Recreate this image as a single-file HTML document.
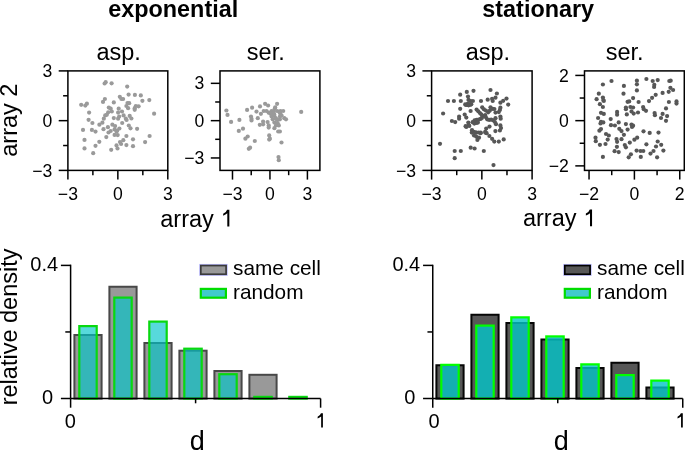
<!DOCTYPE html>
<html><head><meta charset="utf-8"><style>
html,body{margin:0;padding:0;background:#fff;}
svg{display:block;will-change:transform;}
text{font-family:"Liberation Sans", sans-serif;fill:#000;}
.tt{font-weight:bold;font-size:23.4px;}
.st{font-size:23.5px;}
.al{font-size:23.5px;}
.a1{font-size:23px;}
.tk{font-size:17.6px;}
.tb{font-size:20px;}
.lg{font-size:20.8px;}
.dl{font-size:27px;}
</style></head><body>
<svg width="685" height="452" viewBox="0 0 685 452">
<rect width="685" height="452" fill="#fff"/>
<text x="173.2" y="17" text-anchor="middle" class="tt">exponential</text>
<text x="538.2" y="16.8" text-anchor="middle" class="tt">stationary</text>
<text x="118.7" y="59.6" text-anchor="middle" class="st">asp.</text>
<text x="265.8" y="60.1" text-anchor="middle" class="st">ser.</text>
<text x="487.9" y="60.1" text-anchor="middle" class="st">asp.</text>
<text x="624.7" y="60.1" text-anchor="middle" class="st">ser.</text>
<text x="160.25" y="226.5" class="al">array </text>
<path transform="translate(220.6,226.5) scale(23.5,-23.5)" d="M0.3726,0 L0.3726,0.716 L0.2773,0.716 Q0.24,0.60 0.109,0.540 L0.109,0.455 Q0.22,0.505 0.285,0.560 L0.285,0 Z" fill="#000"/>
<text x="522.95" y="226.3" class="al">array </text>
<path transform="translate(583.3,226.3) scale(23.5,-23.5)" d="M0.3726,0 L0.3726,0.716 L0.2773,0.716 Q0.24,0.60 0.109,0.540 L0.109,0.455 Q0.22,0.505 0.285,0.560 L0.285,0 Z" fill="#000"/>
<text transform="translate(17.3,120.2) rotate(-90)" text-anchor="middle" class="al">array 2</text>
<text transform="translate(17.2,326.9) rotate(-90)" text-anchor="middle" class="al">relative density</text>
<circle cx="104.6" cy="83.5" r="2.1" fill="#9a9a9a"/>
<circle cx="105.7" cy="82.2" r="2.1" fill="#9a9a9a"/>
<circle cx="111.6" cy="83.3" r="2.1" fill="#9a9a9a"/>
<circle cx="104.9" cy="99" r="2.1" fill="#9a9a9a"/>
<circle cx="103" cy="101.9" r="2.1" fill="#9a9a9a"/>
<circle cx="113.8" cy="102.4" r="2.1" fill="#9a9a9a"/>
<circle cx="81.2" cy="104.8" r="2.1" fill="#9a9a9a"/>
<circle cx="85.3" cy="105.6" r="2.1" fill="#9a9a9a"/>
<circle cx="86.9" cy="103.7" r="2.1" fill="#9a9a9a"/>
<circle cx="89.1" cy="112.6" r="2.1" fill="#9a9a9a"/>
<circle cx="108.8" cy="107.6" r="2.1" fill="#9a9a9a"/>
<circle cx="110.7" cy="108.7" r="2.1" fill="#9a9a9a"/>
<circle cx="111.8" cy="111.5" r="2.1" fill="#9a9a9a"/>
<circle cx="108.2" cy="112.3" r="2.1" fill="#9a9a9a"/>
<circle cx="105.2" cy="115.4" r="2.1" fill="#9a9a9a"/>
<circle cx="106.8" cy="114.8" r="2.1" fill="#9a9a9a"/>
<circle cx="103.8" cy="118.7" r="2.1" fill="#9a9a9a"/>
<circle cx="113.8" cy="118.1" r="2.1" fill="#9a9a9a"/>
<circle cx="88.6" cy="119.8" r="2.1" fill="#9a9a9a"/>
<circle cx="127.2" cy="86.6" r="2.1" fill="#9a9a9a"/>
<circle cx="128.6" cy="94.6" r="2.1" fill="#9a9a9a"/>
<circle cx="134.9" cy="94.9" r="2.1" fill="#9a9a9a"/>
<circle cx="140.8" cy="95.4" r="2.1" fill="#9a9a9a"/>
<circle cx="119.8" cy="96.8" r="2.1" fill="#9a9a9a"/>
<circle cx="121.4" cy="99" r="2.1" fill="#9a9a9a"/>
<circle cx="123.1" cy="99" r="2.1" fill="#9a9a9a"/>
<circle cx="142.4" cy="100.8" r="2.1" fill="#9a9a9a"/>
<circle cx="149.3" cy="100.1" r="2.1" fill="#9a9a9a"/>
<circle cx="127.5" cy="103" r="2.1" fill="#9a9a9a"/>
<circle cx="129.2" cy="103.2" r="2.1" fill="#9a9a9a"/>
<circle cx="126.4" cy="106" r="2.1" fill="#9a9a9a"/>
<circle cx="128.1" cy="108.2" r="2.1" fill="#9a9a9a"/>
<circle cx="135.8" cy="106" r="2.1" fill="#9a9a9a"/>
<circle cx="138.6" cy="106.3" r="2.1" fill="#9a9a9a"/>
<circle cx="134.7" cy="108.2" r="2.1" fill="#9a9a9a"/>
<circle cx="134.7" cy="109.8" r="2.1" fill="#9a9a9a"/>
<circle cx="118.7" cy="108.7" r="2.1" fill="#9a9a9a"/>
<circle cx="122" cy="111.5" r="2.1" fill="#9a9a9a"/>
<circle cx="118.1" cy="112.6" r="2.1" fill="#9a9a9a"/>
<circle cx="154.1" cy="113.7" r="2.1" fill="#9a9a9a"/>
<circle cx="123.6" cy="115.4" r="2.1" fill="#9a9a9a"/>
<circle cx="129.7" cy="115.9" r="2.1" fill="#9a9a9a"/>
<circle cx="131.4" cy="118.5" r="2.1" fill="#9a9a9a"/>
<circle cx="119.2" cy="116.5" r="2.1" fill="#9a9a9a"/>
<circle cx="118.1" cy="118.7" r="2.1" fill="#9a9a9a"/>
<circle cx="125.8" cy="118.7" r="2.1" fill="#9a9a9a"/>
<circle cx="92.4" cy="123" r="2.1" fill="#9a9a9a"/>
<circle cx="99.4" cy="124.7" r="2.1" fill="#9a9a9a"/>
<circle cx="102.4" cy="122.7" r="2.1" fill="#9a9a9a"/>
<circle cx="83" cy="129.9" r="2.1" fill="#9a9a9a"/>
<circle cx="91.9" cy="129.9" r="2.1" fill="#9a9a9a"/>
<circle cx="95.5" cy="131.6" r="2.1" fill="#9a9a9a"/>
<circle cx="103.5" cy="129.2" r="2.1" fill="#9a9a9a"/>
<circle cx="107.9" cy="127.2" r="2.1" fill="#9a9a9a"/>
<circle cx="112.4" cy="124.7" r="2.1" fill="#9a9a9a"/>
<circle cx="115.1" cy="126.1" r="2.1" fill="#9a9a9a"/>
<circle cx="108.5" cy="132.5" r="2.1" fill="#9a9a9a"/>
<circle cx="110.7" cy="131" r="2.1" fill="#9a9a9a"/>
<circle cx="114.6" cy="129.4" r="2.1" fill="#9a9a9a"/>
<circle cx="114.6" cy="134.9" r="2.1" fill="#9a9a9a"/>
<circle cx="106.3" cy="137.1" r="2.1" fill="#9a9a9a"/>
<circle cx="84.5" cy="139.9" r="2.1" fill="#9a9a9a"/>
<circle cx="99.3" cy="141.8" r="2.1" fill="#9a9a9a"/>
<circle cx="95.5" cy="145.8" r="2.1" fill="#9a9a9a"/>
<circle cx="84.5" cy="148.4" r="2.1" fill="#9a9a9a"/>
<circle cx="93.2" cy="153.2" r="2.1" fill="#9a9a9a"/>
<circle cx="111.2" cy="149.8" r="2.1" fill="#9a9a9a"/>
<circle cx="116.5" cy="145.4" r="2.1" fill="#9a9a9a"/>
<circle cx="117.5" cy="148.5" r="2.1" fill="#9a9a9a"/>
<circle cx="122.2" cy="123" r="2.1" fill="#9a9a9a"/>
<circle cx="126.6" cy="120" r="2.1" fill="#9a9a9a"/>
<circle cx="117.2" cy="130.5" r="2.1" fill="#9a9a9a"/>
<circle cx="119.4" cy="128.5" r="2.1" fill="#9a9a9a"/>
<circle cx="116.6" cy="131.6" r="2.1" fill="#9a9a9a"/>
<circle cx="117.7" cy="135.1" r="2.1" fill="#9a9a9a"/>
<circle cx="128.8" cy="125.5" r="2.1" fill="#9a9a9a"/>
<circle cx="130.5" cy="128.3" r="2.1" fill="#9a9a9a"/>
<circle cx="137.1" cy="128.8" r="2.1" fill="#9a9a9a"/>
<circle cx="126.4" cy="136" r="2.1" fill="#9a9a9a"/>
<circle cx="133" cy="139.3" r="2.1" fill="#9a9a9a"/>
<circle cx="123.3" cy="140.2" r="2.1" fill="#9a9a9a"/>
<circle cx="120" cy="142.1" r="2.1" fill="#9a9a9a"/>
<circle cx="121.1" cy="144" r="2.1" fill="#9a9a9a"/>
<circle cx="126.4" cy="145.1" r="2.1" fill="#9a9a9a"/>
<circle cx="133" cy="146.2" r="2.1" fill="#9a9a9a"/>
<circle cx="149.6" cy="136" r="2.1" fill="#9a9a9a"/>
<circle cx="145.1" cy="142.1" r="2.1" fill="#9a9a9a"/>
<rect x="67.9" y="70.9" width="99.9" height="99.5" fill="none" stroke="#000" stroke-width="1.5"/>
<line x1="67.9" y1="170.4" x2="67.9" y2="179.6" stroke="#000" stroke-width="1.5"/>
<line x1="58.7" y1="170.4" x2="67.9" y2="170.4" stroke="#000" stroke-width="1.5"/>
<text x="67.9" y="199.7" text-anchor="middle" class="tk">−3</text>
<text x="52.3" y="176.5" text-anchor="end" class="tk">−3</text>
<line x1="117.85" y1="170.4" x2="117.85" y2="179.6" stroke="#000" stroke-width="1.5"/>
<line x1="58.7" y1="120.65" x2="67.9" y2="120.65" stroke="#000" stroke-width="1.5"/>
<text x="117.85" y="199.7" text-anchor="middle" class="tk">0</text>
<text x="52.3" y="126.75" text-anchor="end" class="tk">0</text>
<line x1="167.8" y1="170.4" x2="167.8" y2="179.6" stroke="#000" stroke-width="1.5"/>
<line x1="58.7" y1="70.9" x2="67.9" y2="70.9" stroke="#000" stroke-width="1.5"/>
<text x="167.8" y="199.7" text-anchor="middle" class="tk">3</text>
<text x="52.3" y="77" text-anchor="end" class="tk">3</text>
<line x1="92.88" y1="170.4" x2="92.88" y2="175.2" stroke="#000" stroke-width="1.5"/>
<line x1="63.1" y1="145.53" x2="67.9" y2="145.53" stroke="#000" stroke-width="1.5"/>
<line x1="142.83" y1="170.4" x2="142.83" y2="175.2" stroke="#000" stroke-width="1.5"/>
<line x1="63.1" y1="95.78" x2="67.9" y2="95.78" stroke="#000" stroke-width="1.5"/>
<circle cx="226.4" cy="110.5" r="2.1" fill="#9a9a9a"/>
<circle cx="227.5" cy="114.9" r="2.1" fill="#9a9a9a"/>
<circle cx="231.1" cy="121.9" r="2.1" fill="#9a9a9a"/>
<circle cx="239.4" cy="119.9" r="2.1" fill="#9a9a9a"/>
<circle cx="243" cy="128.7" r="2.1" fill="#9a9a9a"/>
<circle cx="238.8" cy="130.9" r="2.1" fill="#9a9a9a"/>
<circle cx="247.1" cy="109.9" r="2.1" fill="#9a9a9a"/>
<circle cx="252.1" cy="107.7" r="2.1" fill="#9a9a9a"/>
<circle cx="251" cy="116.5" r="2.1" fill="#9a9a9a"/>
<circle cx="251.5" cy="118.8" r="2.1" fill="#9a9a9a"/>
<circle cx="251.5" cy="120.4" r="2.1" fill="#9a9a9a"/>
<circle cx="256.5" cy="111.6" r="2.1" fill="#9a9a9a"/>
<circle cx="257.8" cy="118.2" r="2.1" fill="#9a9a9a"/>
<circle cx="260" cy="106.4" r="2.1" fill="#9a9a9a"/>
<circle cx="265.1" cy="103.8" r="2.1" fill="#9a9a9a"/>
<circle cx="268.1" cy="105.5" r="2.1" fill="#9a9a9a"/>
<circle cx="260.9" cy="113.8" r="2.1" fill="#9a9a9a"/>
<circle cx="263.7" cy="111" r="2.1" fill="#9a9a9a"/>
<circle cx="266.5" cy="111" r="2.1" fill="#9a9a9a"/>
<circle cx="268.7" cy="112.7" r="2.1" fill="#9a9a9a"/>
<circle cx="259.8" cy="124.8" r="2.1" fill="#9a9a9a"/>
<circle cx="263.1" cy="121.5" r="2.1" fill="#9a9a9a"/>
<circle cx="263.1" cy="124.3" r="2.1" fill="#9a9a9a"/>
<circle cx="267.6" cy="122.1" r="2.1" fill="#9a9a9a"/>
<circle cx="268.7" cy="125.4" r="2.1" fill="#9a9a9a"/>
<circle cx="268.7" cy="127.6" r="2.1" fill="#9a9a9a"/>
<circle cx="247.7" cy="136.5" r="2.1" fill="#9a9a9a"/>
<circle cx="245.4" cy="138.7" r="2.1" fill="#9a9a9a"/>
<circle cx="269.2" cy="135.4" r="2.1" fill="#9a9a9a"/>
<circle cx="277.1" cy="103.8" r="2.1" fill="#9a9a9a"/>
<circle cx="274.9" cy="108.3" r="2.1" fill="#9a9a9a"/>
<circle cx="271.6" cy="111" r="2.1" fill="#9a9a9a"/>
<circle cx="273.8" cy="111" r="2.1" fill="#9a9a9a"/>
<circle cx="277.1" cy="111" r="2.1" fill="#9a9a9a"/>
<circle cx="280.4" cy="111" r="2.1" fill="#9a9a9a"/>
<circle cx="283.2" cy="111" r="2.1" fill="#9a9a9a"/>
<circle cx="270.5" cy="113.8" r="2.1" fill="#9a9a9a"/>
<circle cx="273.3" cy="113.8" r="2.1" fill="#9a9a9a"/>
<circle cx="280.4" cy="113.8" r="2.1" fill="#9a9a9a"/>
<circle cx="271.6" cy="116.5" r="2.1" fill="#9a9a9a"/>
<circle cx="274.4" cy="116" r="2.1" fill="#9a9a9a"/>
<circle cx="275.5" cy="118.2" r="2.1" fill="#9a9a9a"/>
<circle cx="279.9" cy="116.5" r="2.1" fill="#9a9a9a"/>
<circle cx="272.7" cy="119.3" r="2.1" fill="#9a9a9a"/>
<circle cx="277.1" cy="119.9" r="2.1" fill="#9a9a9a"/>
<circle cx="279.9" cy="119.3" r="2.1" fill="#9a9a9a"/>
<circle cx="284.3" cy="118.2" r="2.1" fill="#9a9a9a"/>
<circle cx="286" cy="119.3" r="2.1" fill="#9a9a9a"/>
<circle cx="274.4" cy="122.6" r="2.1" fill="#9a9a9a"/>
<circle cx="277.7" cy="123.2" r="2.1" fill="#9a9a9a"/>
<circle cx="278.8" cy="125.4" r="2.1" fill="#9a9a9a"/>
<circle cx="276" cy="125.4" r="2.1" fill="#9a9a9a"/>
<circle cx="274.4" cy="128.2" r="2.1" fill="#9a9a9a"/>
<circle cx="278.2" cy="131.5" r="2.1" fill="#9a9a9a"/>
<circle cx="279.9" cy="131.5" r="2.1" fill="#9a9a9a"/>
<circle cx="269.9" cy="138.7" r="2.1" fill="#9a9a9a"/>
<circle cx="301.2" cy="111.9" r="2.1" fill="#9a9a9a"/>
<circle cx="254.8" cy="141" r="2.1" fill="#9a9a9a"/>
<circle cx="248.8" cy="148.8" r="2.1" fill="#9a9a9a"/>
<circle cx="250.1" cy="147.7" r="2.1" fill="#9a9a9a"/>
<circle cx="269.2" cy="139.6" r="2.1" fill="#9a9a9a"/>
<circle cx="281.5" cy="142.5" r="2.1" fill="#9a9a9a"/>
<circle cx="278.5" cy="157.1" r="2.1" fill="#9a9a9a"/>
<circle cx="278.8" cy="160.2" r="2.1" fill="#9a9a9a"/>
<circle cx="276" cy="118.6" r="2.1" fill="#9a9a9a"/>
<circle cx="279.6" cy="112.6" r="2.1" fill="#9a9a9a"/>
<circle cx="281.6" cy="115.6" r="2.1" fill="#9a9a9a"/>
<circle cx="274.2" cy="114.2" r="2.1" fill="#9a9a9a"/>
<circle cx="275.2" cy="107.4" r="2.1" fill="#9a9a9a"/>
<rect x="220" y="70.9" width="99.9" height="99.5" fill="none" stroke="#000" stroke-width="1.5"/>
<line x1="232.49" y1="170.4" x2="232.49" y2="179.6" stroke="#000" stroke-width="1.5"/>
<line x1="210.8" y1="157.96" x2="220" y2="157.96" stroke="#000" stroke-width="1.5"/>
<text x="232.49" y="199.7" text-anchor="middle" class="tk">−3</text>
<text x="204.4" y="164.06" text-anchor="end" class="tk">−3</text>
<line x1="269.95" y1="170.4" x2="269.95" y2="179.6" stroke="#000" stroke-width="1.5"/>
<line x1="210.8" y1="120.65" x2="220" y2="120.65" stroke="#000" stroke-width="1.5"/>
<text x="269.95" y="199.7" text-anchor="middle" class="tk">0</text>
<text x="204.4" y="126.75" text-anchor="end" class="tk">0</text>
<line x1="307.41" y1="170.4" x2="307.41" y2="179.6" stroke="#000" stroke-width="1.5"/>
<line x1="210.8" y1="83.34" x2="220" y2="83.34" stroke="#000" stroke-width="1.5"/>
<text x="307.41" y="199.7" text-anchor="middle" class="tk">3</text>
<text x="204.4" y="89.44" text-anchor="end" class="tk">3</text>
<line x1="251.22" y1="170.4" x2="251.22" y2="175.2" stroke="#000" stroke-width="1.5"/>
<line x1="215.2" y1="139.31" x2="220" y2="139.31" stroke="#000" stroke-width="1.5"/>
<line x1="288.68" y1="170.4" x2="288.68" y2="175.2" stroke="#000" stroke-width="1.5"/>
<line x1="215.2" y1="101.99" x2="220" y2="101.99" stroke="#000" stroke-width="1.5"/>
<circle cx="466.8" cy="91.9" r="2.1" fill="#575757"/>
<circle cx="473.5" cy="90.8" r="2.1" fill="#575757"/>
<circle cx="460.2" cy="94.7" r="2.1" fill="#575757"/>
<circle cx="448" cy="101" r="2.1" fill="#575757"/>
<circle cx="453.9" cy="101" r="2.1" fill="#575757"/>
<circle cx="460.8" cy="101" r="2.1" fill="#575757"/>
<circle cx="468" cy="96.6" r="2.1" fill="#575757"/>
<circle cx="468.5" cy="99.9" r="2.1" fill="#575757"/>
<circle cx="470.7" cy="101" r="2.1" fill="#575757"/>
<circle cx="472.9" cy="101" r="2.1" fill="#575757"/>
<circle cx="465.2" cy="104.4" r="2.1" fill="#575757"/>
<circle cx="467.4" cy="104.9" r="2.1" fill="#575757"/>
<circle cx="469.6" cy="104.4" r="2.1" fill="#575757"/>
<circle cx="481" cy="101" r="2.1" fill="#575757"/>
<circle cx="460.2" cy="108.8" r="2.1" fill="#575757"/>
<circle cx="443.1" cy="113.5" r="2.1" fill="#575757"/>
<circle cx="459.1" cy="116.5" r="2.1" fill="#575757"/>
<circle cx="459.1" cy="118.7" r="2.1" fill="#575757"/>
<circle cx="451.9" cy="121" r="2.1" fill="#575757"/>
<circle cx="455.2" cy="122.1" r="2.1" fill="#575757"/>
<circle cx="471.8" cy="132.6" r="2.1" fill="#575757"/>
<circle cx="476.2" cy="132.6" r="2.1" fill="#575757"/>
<circle cx="480.7" cy="132.6" r="2.1" fill="#575757"/>
<circle cx="490.5" cy="90" r="2.1" fill="#575757"/>
<circle cx="496.9" cy="93.5" r="2.1" fill="#575757"/>
<circle cx="487.7" cy="99.7" r="2.1" fill="#575757"/>
<circle cx="492.1" cy="98.8" r="2.1" fill="#575757"/>
<circle cx="492.7" cy="101" r="2.1" fill="#575757"/>
<circle cx="495.5" cy="97.7" r="2.1" fill="#575757"/>
<circle cx="500.4" cy="102.7" r="2.1" fill="#575757"/>
<circle cx="503.2" cy="100.8" r="2.1" fill="#575757"/>
<circle cx="506.5" cy="98.6" r="2.1" fill="#575757"/>
<circle cx="508.2" cy="104.6" r="2.1" fill="#575757"/>
<circle cx="492.7" cy="108.8" r="2.1" fill="#575757"/>
<circle cx="494.4" cy="109" r="2.1" fill="#575757"/>
<circle cx="500.4" cy="107.7" r="2.1" fill="#575757"/>
<circle cx="499.9" cy="109.9" r="2.1" fill="#575757"/>
<circle cx="495.5" cy="112.6" r="2.1" fill="#575757"/>
<circle cx="498.8" cy="112.1" r="2.1" fill="#575757"/>
<circle cx="493.3" cy="120.4" r="2.1" fill="#575757"/>
<circle cx="495.5" cy="118.2" r="2.1" fill="#575757"/>
<circle cx="500.4" cy="116.5" r="2.1" fill="#575757"/>
<circle cx="500.7" cy="118.7" r="2.1" fill="#575757"/>
<circle cx="494.9" cy="122" r="2.1" fill="#575757"/>
<circle cx="496" cy="124.2" r="2.1" fill="#575757"/>
<circle cx="500.4" cy="125.4" r="2.1" fill="#575757"/>
<circle cx="501" cy="128.1" r="2.1" fill="#575757"/>
<circle cx="474" cy="135.5" r="2.1" fill="#575757"/>
<circle cx="476.2" cy="136.6" r="2.1" fill="#575757"/>
<circle cx="477.4" cy="139.9" r="2.1" fill="#575757"/>
<circle cx="479" cy="137.7" r="2.1" fill="#575757"/>
<circle cx="440" cy="143.8" r="2.1" fill="#575757"/>
<circle cx="470.7" cy="147.7" r="2.1" fill="#575757"/>
<circle cx="474.6" cy="148.5" r="2.1" fill="#575757"/>
<circle cx="454.7" cy="151" r="2.1" fill="#575757"/>
<circle cx="460.8" cy="151" r="2.1" fill="#575757"/>
<circle cx="454.7" cy="158.2" r="2.1" fill="#575757"/>
<circle cx="485.5" cy="132.7" r="2.1" fill="#575757"/>
<circle cx="499.9" cy="130.5" r="2.1" fill="#575757"/>
<circle cx="495.4" cy="131.1" r="2.1" fill="#575757"/>
<circle cx="489.4" cy="136" r="2.1" fill="#575757"/>
<circle cx="492.1" cy="138.8" r="2.1" fill="#575757"/>
<circle cx="494.3" cy="141.6" r="2.1" fill="#575757"/>
<circle cx="498.8" cy="141.6" r="2.1" fill="#575757"/>
<circle cx="503.7" cy="139.4" r="2.1" fill="#575757"/>
<circle cx="483.8" cy="151" r="2.1" fill="#575757"/>
<circle cx="493.5" cy="165.1" r="2.1" fill="#575757"/>
<circle cx="467.7" cy="103.8" r="2.1" fill="#575757"/>
<circle cx="470.3" cy="104.7" r="2.1" fill="#575757"/>
<circle cx="466" cy="105" r="2.1" fill="#575757"/>
<circle cx="468.6" cy="105.3" r="2.1" fill="#575757"/>
<circle cx="471.3" cy="104.3" r="2.1" fill="#575757"/>
<circle cx="470.6" cy="111" r="2.1" fill="#575757"/>
<circle cx="464.7" cy="114.6" r="2.1" fill="#575757"/>
<circle cx="466.3" cy="117.6" r="2.1" fill="#575757"/>
<circle cx="476.6" cy="109.6" r="2.1" fill="#575757"/>
<circle cx="478.3" cy="111.3" r="2.1" fill="#575757"/>
<circle cx="479.9" cy="113" r="2.1" fill="#575757"/>
<circle cx="481.2" cy="114.3" r="2.1" fill="#575757"/>
<circle cx="482.6" cy="115.9" r="2.1" fill="#575757"/>
<circle cx="482.2" cy="107.3" r="2.1" fill="#575757"/>
<circle cx="483.9" cy="109.3" r="2.1" fill="#575757"/>
<circle cx="485.9" cy="110.6" r="2.1" fill="#575757"/>
<circle cx="488.2" cy="112.3" r="2.1" fill="#575757"/>
<circle cx="489.9" cy="110.6" r="2.1" fill="#575757"/>
<circle cx="490.5" cy="107.3" r="2.1" fill="#575757"/>
<circle cx="485.2" cy="115" r="2.1" fill="#575757"/>
<circle cx="485.9" cy="117.3" r="2.1" fill="#575757"/>
<circle cx="487.2" cy="119.3" r="2.1" fill="#575757"/>
<circle cx="489.2" cy="119.9" r="2.1" fill="#575757"/>
<circle cx="491.2" cy="119.6" r="2.1" fill="#575757"/>
<circle cx="474.6" cy="120.3" r="2.1" fill="#575757"/>
<circle cx="476.6" cy="119.9" r="2.1" fill="#575757"/>
<circle cx="478.6" cy="119.6" r="2.1" fill="#575757"/>
<circle cx="480.6" cy="118.9" r="2.1" fill="#575757"/>
<circle cx="481.9" cy="117.9" r="2.1" fill="#575757"/>
<circle cx="472.6" cy="122.2" r="2.1" fill="#575757"/>
<circle cx="474.3" cy="123.6" r="2.1" fill="#575757"/>
<circle cx="476.3" cy="122.9" r="2.1" fill="#575757"/>
<circle cx="477.9" cy="122.6" r="2.1" fill="#575757"/>
<circle cx="468.3" cy="122.6" r="2.1" fill="#575757"/>
<circle cx="468.6" cy="125.2" r="2.1" fill="#575757"/>
<circle cx="466.3" cy="126.9" r="2.1" fill="#575757"/>
<circle cx="465.6" cy="126.2" r="2.1" fill="#575757"/>
<circle cx="469.3" cy="125.9" r="2.1" fill="#575757"/>
<circle cx="472" cy="130.2" r="2.1" fill="#575757"/>
<circle cx="473.9" cy="131.9" r="2.1" fill="#575757"/>
<circle cx="475.9" cy="132.5" r="2.1" fill="#575757"/>
<circle cx="478.6" cy="132.5" r="2.1" fill="#575757"/>
<circle cx="480.6" cy="133.2" r="2.1" fill="#575757"/>
<circle cx="486.2" cy="128.6" r="2.1" fill="#575757"/>
<circle cx="489.5" cy="126.6" r="2.1" fill="#575757"/>
<circle cx="485.2" cy="131.9" r="2.1" fill="#575757"/>
<circle cx="486.6" cy="133.2" r="2.1" fill="#575757"/>
<rect x="431.6" y="70.9" width="100.5" height="99.5" fill="none" stroke="#000" stroke-width="1.5"/>
<line x1="431.6" y1="170.4" x2="431.6" y2="179.6" stroke="#000" stroke-width="1.5"/>
<line x1="422.4" y1="170.4" x2="431.6" y2="170.4" stroke="#000" stroke-width="1.5"/>
<text x="431.6" y="199.7" text-anchor="middle" class="tk">−3</text>
<text x="416" y="176.5" text-anchor="end" class="tk">−3</text>
<line x1="481.85" y1="170.4" x2="481.85" y2="179.6" stroke="#000" stroke-width="1.5"/>
<line x1="422.4" y1="120.65" x2="431.6" y2="120.65" stroke="#000" stroke-width="1.5"/>
<text x="481.85" y="199.7" text-anchor="middle" class="tk">0</text>
<text x="416" y="126.75" text-anchor="end" class="tk">0</text>
<line x1="532.1" y1="170.4" x2="532.1" y2="179.6" stroke="#000" stroke-width="1.5"/>
<line x1="422.4" y1="70.9" x2="431.6" y2="70.9" stroke="#000" stroke-width="1.5"/>
<text x="532.1" y="199.7" text-anchor="middle" class="tk">3</text>
<text x="416" y="77" text-anchor="end" class="tk">3</text>
<line x1="456.73" y1="170.4" x2="456.73" y2="175.2" stroke="#000" stroke-width="1.5"/>
<line x1="426.8" y1="145.53" x2="431.6" y2="145.53" stroke="#000" stroke-width="1.5"/>
<line x1="506.98" y1="170.4" x2="506.98" y2="175.2" stroke="#000" stroke-width="1.5"/>
<line x1="426.8" y1="95.78" x2="431.6" y2="95.78" stroke="#000" stroke-width="1.5"/>
<circle cx="611.5" cy="81" r="2.1" fill="#575757"/>
<circle cx="602.9" cy="84.5" r="2.1" fill="#575757"/>
<circle cx="623.9" cy="85.9" r="2.1" fill="#575757"/>
<circle cx="598.8" cy="93.7" r="2.1" fill="#575757"/>
<circle cx="623.5" cy="93.7" r="2.1" fill="#575757"/>
<circle cx="596.6" cy="99.2" r="2.1" fill="#575757"/>
<circle cx="602.9" cy="97.5" r="2.1" fill="#575757"/>
<circle cx="603.3" cy="100" r="2.1" fill="#575757"/>
<circle cx="603.8" cy="100.9" r="2.1" fill="#575757"/>
<circle cx="599.9" cy="104.2" r="2.1" fill="#575757"/>
<circle cx="602.9" cy="107" r="2.1" fill="#575757"/>
<circle cx="633.1" cy="98.1" r="2.1" fill="#575757"/>
<circle cx="627.6" cy="101.8" r="2.1" fill="#575757"/>
<circle cx="629.2" cy="101.4" r="2.1" fill="#575757"/>
<circle cx="625.9" cy="107.5" r="2.1" fill="#575757"/>
<circle cx="625.9" cy="109.2" r="2.1" fill="#575757"/>
<circle cx="630.4" cy="107" r="2.1" fill="#575757"/>
<circle cx="633.1" cy="107.5" r="2.1" fill="#575757"/>
<circle cx="631.5" cy="111.4" r="2.1" fill="#575757"/>
<circle cx="633.7" cy="113.6" r="2.1" fill="#575757"/>
<circle cx="626.8" cy="114.4" r="2.1" fill="#575757"/>
<circle cx="617.1" cy="111.9" r="2.1" fill="#575757"/>
<circle cx="617.1" cy="114.7" r="2.1" fill="#575757"/>
<circle cx="601" cy="112.8" r="2.1" fill="#575757"/>
<circle cx="603.8" cy="113.9" r="2.1" fill="#575757"/>
<circle cx="598.1" cy="118" r="2.1" fill="#575757"/>
<circle cx="610.7" cy="119.1" r="2.1" fill="#575757"/>
<circle cx="636.9" cy="80.7" r="2.1" fill="#575757"/>
<circle cx="636.9" cy="84.3" r="2.1" fill="#575757"/>
<circle cx="646.4" cy="79" r="2.1" fill="#575757"/>
<circle cx="652.7" cy="81" r="2.1" fill="#575757"/>
<circle cx="657.7" cy="80.1" r="2.1" fill="#575757"/>
<circle cx="669.3" cy="81" r="2.1" fill="#575757"/>
<circle cx="670.7" cy="80.7" r="2.1" fill="#575757"/>
<circle cx="654.3" cy="84.8" r="2.1" fill="#575757"/>
<circle cx="654.1" cy="87" r="2.1" fill="#575757"/>
<circle cx="636.9" cy="90.4" r="2.1" fill="#575757"/>
<circle cx="670.4" cy="87.8" r="2.1" fill="#575757"/>
<circle cx="673.1" cy="90" r="2.1" fill="#575757"/>
<circle cx="668.7" cy="91.8" r="2.1" fill="#575757"/>
<circle cx="662.6" cy="92.9" r="2.1" fill="#575757"/>
<circle cx="655.7" cy="94.8" r="2.1" fill="#575757"/>
<circle cx="652.1" cy="97.8" r="2.1" fill="#575757"/>
<circle cx="649" cy="101.1" r="2.1" fill="#575757"/>
<circle cx="638.6" cy="102" r="2.1" fill="#575757"/>
<circle cx="668.9" cy="102" r="2.1" fill="#575757"/>
<circle cx="676.5" cy="101.4" r="2.1" fill="#575757"/>
<circle cx="676.5" cy="103.6" r="2.1" fill="#575757"/>
<circle cx="643.1" cy="107" r="2.1" fill="#575757"/>
<circle cx="643.8" cy="109.2" r="2.1" fill="#575757"/>
<circle cx="646" cy="110.8" r="2.1" fill="#575757"/>
<circle cx="666" cy="108.4" r="2.1" fill="#575757"/>
<circle cx="638" cy="112.5" r="2.1" fill="#575757"/>
<circle cx="654.6" cy="113" r="2.1" fill="#575757"/>
<circle cx="654.9" cy="115.2" r="2.1" fill="#575757"/>
<circle cx="662.6" cy="113.9" r="2.1" fill="#575757"/>
<circle cx="667.1" cy="116.1" r="2.1" fill="#575757"/>
<circle cx="661" cy="118" r="2.1" fill="#575757"/>
<circle cx="666" cy="120.8" r="2.1" fill="#575757"/>
<circle cx="601" cy="121.9" r="2.1" fill="#575757"/>
<circle cx="603.3" cy="122.4" r="2.1" fill="#575757"/>
<circle cx="600.5" cy="123.5" r="2.1" fill="#575757"/>
<circle cx="611" cy="125.2" r="2.1" fill="#575757"/>
<circle cx="614.9" cy="125.5" r="2.1" fill="#575757"/>
<circle cx="618.7" cy="122.4" r="2.1" fill="#575757"/>
<circle cx="625.9" cy="124.1" r="2.1" fill="#575757"/>
<circle cx="631.5" cy="124.6" r="2.1" fill="#575757"/>
<circle cx="633.1" cy="125.7" r="2.1" fill="#575757"/>
<circle cx="632" cy="127" r="2.1" fill="#575757"/>
<circle cx="601" cy="129.1" r="2.1" fill="#575757"/>
<circle cx="599.4" cy="130.7" r="2.1" fill="#575757"/>
<circle cx="619.3" cy="128.8" r="2.1" fill="#575757"/>
<circle cx="621.5" cy="131.1" r="2.1" fill="#575757"/>
<circle cx="627.6" cy="129.6" r="2.1" fill="#575757"/>
<circle cx="606" cy="134" r="2.1" fill="#575757"/>
<circle cx="608.8" cy="135.5" r="2.1" fill="#575757"/>
<circle cx="607.7" cy="139.6" r="2.1" fill="#575757"/>
<circle cx="623.9" cy="134.8" r="2.1" fill="#575757"/>
<circle cx="595.5" cy="137.7" r="2.1" fill="#575757"/>
<circle cx="595.8" cy="141.2" r="2.1" fill="#575757"/>
<circle cx="616.5" cy="139" r="2.1" fill="#575757"/>
<circle cx="617.1" cy="141.8" r="2.1" fill="#575757"/>
<circle cx="621.5" cy="139.2" r="2.1" fill="#575757"/>
<circle cx="634.4" cy="139.7" r="2.1" fill="#575757"/>
<circle cx="599.9" cy="144.8" r="2.1" fill="#575757"/>
<circle cx="605.5" cy="144" r="2.1" fill="#575757"/>
<circle cx="629.8" cy="142.6" r="2.1" fill="#575757"/>
<circle cx="624.8" cy="145.1" r="2.1" fill="#575757"/>
<circle cx="625.9" cy="147.3" r="2.1" fill="#575757"/>
<circle cx="616.9" cy="146.8" r="2.1" fill="#575757"/>
<circle cx="614.6" cy="151.2" r="2.1" fill="#575757"/>
<circle cx="618.7" cy="152.1" r="2.1" fill="#575757"/>
<circle cx="630.9" cy="154.3" r="2.1" fill="#575757"/>
<circle cx="628.7" cy="157.3" r="2.1" fill="#575757"/>
<circle cx="602.9" cy="156.9" r="2.1" fill="#575757"/>
<circle cx="643.5" cy="131.3" r="2.1" fill="#575757"/>
<circle cx="649.7" cy="132.9" r="2.1" fill="#575757"/>
<circle cx="658.5" cy="132.6" r="2.1" fill="#575757"/>
<circle cx="637.2" cy="137.7" r="2.1" fill="#575757"/>
<circle cx="646.4" cy="144.3" r="2.1" fill="#575757"/>
<circle cx="657.7" cy="141.5" r="2.1" fill="#575757"/>
<circle cx="661.2" cy="144.8" r="2.1" fill="#575757"/>
<circle cx="656" cy="146.5" r="2.1" fill="#575757"/>
<circle cx="636.6" cy="150.6" r="2.1" fill="#575757"/>
<circle cx="640.5" cy="151" r="2.1" fill="#575757"/>
<circle cx="643.3" cy="151" r="2.1" fill="#575757"/>
<circle cx="653.5" cy="151" r="2.1" fill="#575757"/>
<circle cx="650.5" cy="153.6" r="2.1" fill="#575757"/>
<circle cx="663.4" cy="150.6" r="2.1" fill="#575757"/>
<circle cx="640.8" cy="156.9" r="2.1" fill="#575757"/>
<circle cx="657.1" cy="157.3" r="2.1" fill="#575757"/>
<rect x="584.5" y="70.9" width="99.8" height="99.5" fill="none" stroke="#000" stroke-width="1.5"/>
<line x1="589.04" y1="170.4" x2="589.04" y2="179.6" stroke="#000" stroke-width="1.5"/>
<line x1="575.3" y1="165.88" x2="584.5" y2="165.88" stroke="#000" stroke-width="1.5"/>
<text x="589.04" y="199.7" text-anchor="middle" class="tk">−2</text>
<text x="568.9" y="171.98" text-anchor="end" class="tk">−2</text>
<line x1="634.4" y1="170.4" x2="634.4" y2="179.6" stroke="#000" stroke-width="1.5"/>
<line x1="575.3" y1="120.65" x2="584.5" y2="120.65" stroke="#000" stroke-width="1.5"/>
<text x="634.4" y="199.7" text-anchor="middle" class="tk">0</text>
<text x="568.9" y="126.75" text-anchor="end" class="tk">0</text>
<line x1="679.76" y1="170.4" x2="679.76" y2="179.6" stroke="#000" stroke-width="1.5"/>
<line x1="575.3" y1="75.42" x2="584.5" y2="75.42" stroke="#000" stroke-width="1.5"/>
<text x="679.76" y="199.7" text-anchor="middle" class="tk">2</text>
<text x="568.9" y="81.52" text-anchor="end" class="tk">2</text>
<line x1="611.72" y1="170.4" x2="611.72" y2="175.2" stroke="#000" stroke-width="1.5"/>
<line x1="579.7" y1="143.26" x2="584.5" y2="143.26" stroke="#000" stroke-width="1.5"/>
<line x1="657.08" y1="170.4" x2="657.08" y2="175.2" stroke="#000" stroke-width="1.5"/>
<line x1="579.7" y1="98.04" x2="584.5" y2="98.04" stroke="#000" stroke-width="1.5"/>
<rect x="74.4" y="335" width="27.2" height="63.6" fill="#999999" stroke="#484848" stroke-width="2"/>
<rect x="109.4" y="286.75" width="27.2" height="111.85" fill="#999999" stroke="#484848" stroke-width="2"/>
<rect x="144.4" y="343" width="27.2" height="55.6" fill="#999999" stroke="#484848" stroke-width="2"/>
<rect x="179.4" y="350.7" width="27.2" height="47.9" fill="#999999" stroke="#484848" stroke-width="2"/>
<rect x="214.4" y="371" width="27.2" height="27.6" fill="#999999" stroke="#484848" stroke-width="2"/>
<rect x="249.4" y="374.8" width="27.2" height="23.8" fill="#999999" stroke="#484848" stroke-width="2"/>
<rect x="79.3" y="326.1" width="17.4" height="72.5" fill="rgba(0,197,202,0.66)" stroke="#08d810" stroke-width="2.2"/>
<rect x="114.3" y="297.6" width="17.4" height="101" fill="rgba(0,197,202,0.66)" stroke="#08d810" stroke-width="2.2"/>
<rect x="149.3" y="321.6" width="17.4" height="77" fill="rgba(0,197,202,0.66)" stroke="#08d810" stroke-width="2.2"/>
<rect x="184.3" y="348.7" width="17.4" height="49.9" fill="rgba(0,197,202,0.66)" stroke="#08d810" stroke-width="2.2"/>
<rect x="219.3" y="374.2" width="17.4" height="24.4" fill="rgba(0,197,202,0.66)" stroke="#08d810" stroke-width="2.2"/>
<rect x="254.3" y="396.9" width="17.4" height="1.7" fill="rgba(0,197,202,0.66)" stroke="#08d810" stroke-width="2.2"/>
<rect x="289.3" y="396.9" width="17.4" height="1.7" fill="rgba(0,197,202,0.66)" stroke="#08d810" stroke-width="2.2"/>
<line x1="70.6" y1="264.65" x2="70.6" y2="398.5" stroke="#000" stroke-width="1.5"/>
<line x1="70.6" y1="398.5" x2="320.6" y2="398.5" stroke="#000" stroke-width="1.5"/>
<line x1="60.9" y1="398.5" x2="70.6" y2="398.5" stroke="#000" stroke-width="1.5"/>
<line x1="65.3" y1="331.95" x2="70.6" y2="331.95" stroke="#000" stroke-width="1.5"/>
<line x1="60.9" y1="265.4" x2="70.6" y2="265.4" stroke="#000" stroke-width="1.5"/>
<line x1="70.6" y1="398.5" x2="70.6" y2="407.7" stroke="#000" stroke-width="1.5"/>
<line x1="195.6" y1="398.5" x2="195.6" y2="403.3" stroke="#000" stroke-width="1.5"/>
<line x1="320.6" y1="398.5" x2="320.6" y2="407.7" stroke="#000" stroke-width="1.5"/>
<text x="58.1" y="270.9" text-anchor="end" class="tb">0.4</text>
<text x="53.1" y="404.2" text-anchor="end" class="tb">0</text>
<text x="70.4" y="428" text-anchor="middle" class="tb">0</text>
<path transform="translate(315.45,427.6) scale(20,-20)" d="M0.3726,0 L0.3726,0.716 L0.2773,0.716 Q0.24,0.60 0.109,0.540 L0.109,0.455 Q0.22,0.505 0.285,0.560 L0.285,0 Z" fill="#000"/>
<text x="197.2" y="450" text-anchor="middle" class="dl">d</text>
<rect x="200.8" y="265.55" width="25.3" height="8.7" fill="none" stroke="rgba(90,90,255,0.4)" stroke-width="3.2"/>
<rect x="200.8" y="265.55" width="25.3" height="8.7" fill="#999999" stroke="#3a3a3a" stroke-width="1.7"/>
<rect x="200.8" y="288.9" width="25.1" height="8.8" fill="#41cacd" stroke="#00dc00" stroke-width="2.2"/>
<text x="233" y="275.4" class="lg">same cell</text>
<text x="233" y="298.8" class="lg">random</text>
<rect x="436.4" y="365.25" width="27.2" height="33.35" fill="#575757" stroke="#060606" stroke-width="2"/>
<rect x="471.4" y="314.75" width="27.2" height="83.85" fill="#575757" stroke="#060606" stroke-width="2"/>
<rect x="506.4" y="323" width="27.2" height="75.6" fill="#575757" stroke="#060606" stroke-width="2"/>
<rect x="541.4" y="339.5" width="27.2" height="59.1" fill="#575757" stroke="#060606" stroke-width="2"/>
<rect x="576.4" y="368" width="27.2" height="30.6" fill="#575757" stroke="#060606" stroke-width="2"/>
<rect x="611.4" y="362.75" width="27.2" height="35.85" fill="#575757" stroke="#060606" stroke-width="2"/>
<rect x="646.4" y="387.5" width="27.2" height="11.1" fill="#575757" stroke="#060606" stroke-width="2"/>
<rect x="441.3" y="364.85" width="17.4" height="33.75" fill="rgba(4,196,200,0.81)" stroke="#00ff00" stroke-width="2.2"/>
<rect x="476.3" y="325.6" width="17.4" height="73" fill="rgba(4,196,200,0.81)" stroke="#00ff00" stroke-width="2.2"/>
<rect x="511.3" y="317.35" width="17.4" height="81.25" fill="rgba(4,196,200,0.81)" stroke="#00ff00" stroke-width="2.2"/>
<rect x="546.3" y="336.4" width="17.4" height="62.2" fill="rgba(4,196,200,0.81)" stroke="#00ff00" stroke-width="2.2"/>
<rect x="581.3" y="364.35" width="17.4" height="34.25" fill="rgba(4,196,200,0.81)" stroke="#00ff00" stroke-width="2.2"/>
<rect x="616.3" y="375.1" width="17.4" height="23.5" fill="rgba(4,196,200,0.81)" stroke="#00ff00" stroke-width="2.2"/>
<rect x="651.3" y="380.6" width="17.4" height="18" fill="rgba(4,196,200,0.81)" stroke="#00ff00" stroke-width="2.2"/>
<line x1="432.75" y1="264.65" x2="432.75" y2="398.5" stroke="#000" stroke-width="1.5"/>
<line x1="432.75" y1="398.5" x2="682.75" y2="398.5" stroke="#000" stroke-width="1.5"/>
<line x1="423.05" y1="398.5" x2="432.75" y2="398.5" stroke="#000" stroke-width="1.5"/>
<line x1="427.45" y1="331.95" x2="432.75" y2="331.95" stroke="#000" stroke-width="1.5"/>
<line x1="423.05" y1="265.4" x2="432.75" y2="265.4" stroke="#000" stroke-width="1.5"/>
<line x1="432.75" y1="398.5" x2="432.75" y2="407.7" stroke="#000" stroke-width="1.5"/>
<line x1="557.75" y1="398.5" x2="557.75" y2="403.3" stroke="#000" stroke-width="1.5"/>
<line x1="682.75" y1="398.5" x2="682.75" y2="407.7" stroke="#000" stroke-width="1.5"/>
<text x="420.25" y="270.9" text-anchor="end" class="tb">0.4</text>
<text x="415.25" y="404.2" text-anchor="end" class="tb">0</text>
<text x="434" y="428" text-anchor="middle" class="tb">0</text>
<path transform="translate(675.35,427.6) scale(20,-20)" d="M0.3726,0 L0.3726,0.716 L0.2773,0.716 Q0.24,0.60 0.109,0.540 L0.109,0.455 Q0.22,0.505 0.285,0.560 L0.285,0 Z" fill="#000"/>
<text x="561.25" y="450" text-anchor="middle" class="dl">d</text>
<rect x="564.8" y="265.55" width="25.3" height="8.7" fill="none" stroke="rgba(90,90,255,0.4)" stroke-width="3.2"/>
<rect x="564.8" y="265.55" width="25.3" height="8.7" fill="#575757" stroke="#000" stroke-width="1.7"/>
<rect x="564.8" y="288.9" width="25.1" height="8.8" fill="#41cacd" stroke="#00dc00" stroke-width="2.2"/>
<text x="597" y="275.4" class="lg">same cell</text>
<text x="597" y="298.8" class="lg">random</text>
</svg>
</body></html>
